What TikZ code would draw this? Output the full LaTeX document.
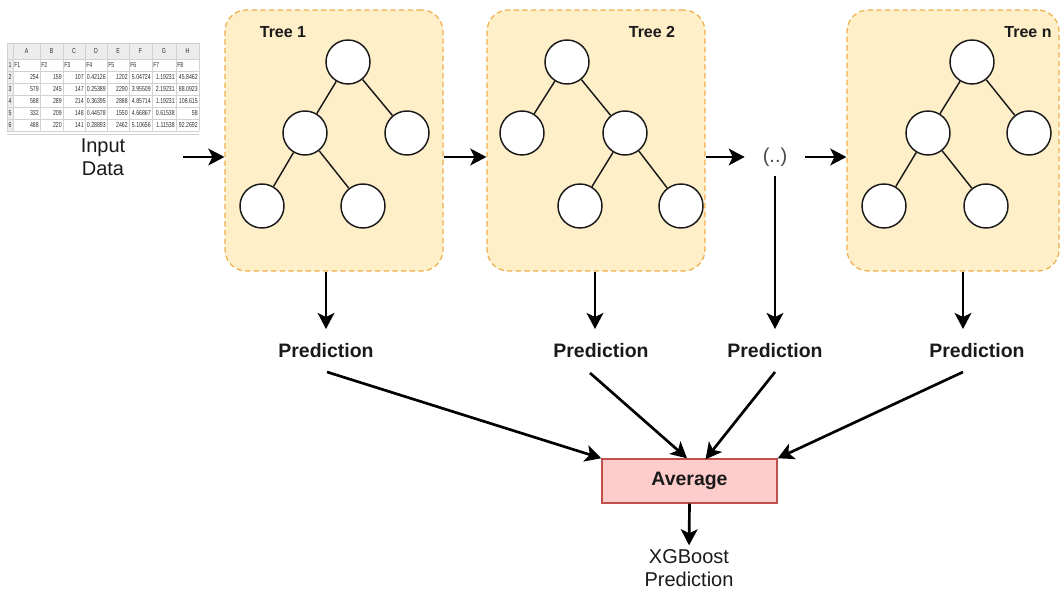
\documentclass[tikz,border=0pt]{standalone}
\usepackage{fontspec}
\usepackage{graphicx}
\setmainfont{Liberation Sans}
\usetikzlibrary{arrows.meta,calc}
\definecolor{treefill}{HTML}{FFEFC9}
\definecolor{treeedge}{HTML}{EEAE48}
\definecolor{avgfill}{HTML}{FFCCCC}
\definecolor{avgedge}{HTML}{C0504D}
\definecolor{ink}{HTML}{1A1A1A}
\definecolor{gridline}{HTML}{D2D2D2}
\definecolor{sheethead}{HTML}{ECECEC}
\definecolor{sheetink}{HTML}{2E2E2E}

\newcommand{\narrowcell}[1]{\scalebox{0.72}[1]{#1}}

\begin{document}
\begin{tikzpicture}[x=0.75pt,y=-0.75pt,
  treebox/.style={draw=treeedge, fill=treefill, dash pattern=on 4pt off 2.5pt,
    line width=0.9pt, rounded corners=16pt, minimum width=163.5pt,
    minimum height=195.75pt, inner sep=0pt},
  leaf/.style={circle, draw=ink, fill=white, line width=1.1pt,
    minimum size=33pt, inner sep=0pt},
  branch/.style={draw=ink, line width=1.1pt},
  flow/.style={-{Stealth[length=12pt,width=12.5pt,inset=3pt]}, line width=2pt, draw=black},
  treetitle/.style={font=\fontsize{12}{14}\selectfont\bfseries, text=ink, inner sep=0pt},
  predlabel/.style={font=\fontsize{14.6}{17}\selectfont\bfseries, text=ink, inner sep=0pt},
  plain/.style={font=\fontsize{15}{17}\selectfont, text=ink, inner sep=0pt, align=center},
  cell/.style={font=\fontsize{5.4}{5.4}\selectfont, text=sheetink, inner sep=0pt},
]
\useasboundingbox (0,0) rectangle (1060,591);
\clip (0,0) rectangle (1060,591);

% ---------- spreadsheet with the input features ----------
\fill[sheethead] (7,43) rectangle (199,59);
\fill[sheethead] (7,59) rectangle (13,131);
\foreach \y in {43,59,71,83,95,107,119,131}
  \draw[gridline, line width=0.4pt] (7,\y) -- (199,\y);
\foreach \x in {7,13,40,63,85,107,129,152,176,199}
  \draw[gridline, line width=0.4pt] (\x,43) -- (\x,131);
\draw[gridline, line width=0.4pt] (7,134) -- (199,134);
\foreach \h [count=\c] in {A,B,C,D,E,F,G,H} {
  \pgfmathsetmacro{\xl}{{13,40,63,85,107,129,152,176,199}[\c-1]}
  \pgfmathsetmacro{\xr}{{13,40,63,85,107,129,152,176,199}[\c]}
  \node[cell] at ({(\xl+\xr)/2},51) {\narrowcell{\h}};
  \node[cell, anchor=west] at (\xl+1,65) {\narrowcell{F\c}};
}
\foreach \r in {1,...,6}
  \node[cell] at (10,{53+\r*12}) {\narrowcell{\r}};
\foreach \row [count=\i from 2] in {
  {254,159,107,0.42126,1202,5.04724,1.19231,45.8462},
  {579,245,147,0.25389,2290,3.95509,2.19231,88.0923},
  {588,289,214,0.36395,2888,4.85714,1.19231,108.615},
  {332,209,148,0.44578,1550,4.66867,0.61538,58},
  {488,220,141,0.28893,2462,5.10656,1.11538,92.2692}} {
  \foreach \v [count=\c] in \row {
    \pgfmathsetmacro{\xr}{{13,40,63,85,107,129,152,176,199}[\c]}
    \node[cell, anchor=east] at (\xr-1,{53+\i*12}) {\narrowcell{\v}};
  }
}
\node[plain] (inp) at (103,157) {Input\\Data};

% ---------- tree containers ----------
\node[treebox] (box1) at (334,140.5) {};
\node[treebox] (box2) at (596,140.5) {};
\node[treebox, minimum width=159pt] (boxn) at (953,140.5) {};

\node[treetitle] at (283,32) {Tree 1};
\node[treetitle] at (652,32) {Tree 2};
\node[treetitle] at (1028,32) {Tree n};

% Tree 1
\node[leaf] (t1r) at (348,62) {};
\node[leaf] (t1a) at (305,133) {};
\node[leaf] (t1b) at (407,133) {};
\node[leaf] (t1c) at (262,206) {};
\node[leaf] (t1d) at (363,206) {};
\draw[branch] (t1r) -- (t1a);
\draw[branch] (t1r) -- (t1b);
\draw[branch] (t1a) -- (t1c);
\draw[branch] (t1a) -- (t1d);

% Tree 2
\node[leaf] (t2r) at (567,62) {};
\node[leaf] (t2a) at (522,133) {};
\node[leaf] (t2b) at (625,133) {};
\node[leaf] (t2c) at (580,206) {};
\node[leaf] (t2d) at (681,206) {};
\draw[branch] (t2r) -- (t2a);
\draw[branch] (t2r) -- (t2b);
\draw[branch] (t2b) -- (t2c);
\draw[branch] (t2b) -- (t2d);

% Tree n
\node[leaf] (tnr) at (972,62) {};
\node[leaf] (tna) at (928,133) {};
\node[leaf] (tnb) at (1029,133) {};
\node[leaf] (tnc) at (884,206) {};
\node[leaf] (tnd) at (986,206) {};
\draw[branch] (tnr) -- (tna);
\draw[branch] (tnr) -- (tnb);
\draw[branch] (tna) -- (tnc);
\draw[branch] (tna) -- (tnd);

% ---------- chain of trees ----------
\node[plain, text=ink!80, minimum width=45pt, minimum height=28.5pt] (dots) at (775,157) {(..)};
\coordinate (inarr) at (183,157);
\draw[flow] (inarr) -- (box1.west |- inarr);
\draw[flow] (box1.east |- dots) -- (box2.west |- dots);
\draw[flow] (box2.east |- dots) -- (dots.west);
\draw[flow] (dots.east) -- (boxn.west |- dots);

% ---------- predictions ----------
\node[predlabel] (p1) at (326,351) {Prediction};
\node[predlabel] (p2) at (601,351) {Prediction};
\node[predlabel] (p3) at (775,351) {Prediction};
\node[predlabel] (p4) at (977,351) {Prediction};

\coordinate (d1) at ($(p1)+(0,-22)$);
\coordinate (d2) at ($(p2)+(-6,-22)$);
\coordinate (d3) at ($(p3)+(0,-22)$);
\coordinate (d4) at ($(p4)+(-14,-22)$);
\draw[flow] (d1 |- box1.south) -- (d1);
\draw[flow] (d2 |- box2.south) -- (d2);
\draw[flow] (dots.south) -- (d3);
\draw[flow] (d4 |- boxn.south) -- (d4);

% ---------- averaging ----------
\node[draw=avgedge, fill=avgfill, line width=1.1pt, minimum width=131.25pt,
  minimum height=33pt, inner sep=0pt, font=\fontsize{14.6}{17}\selectfont\bfseries,
  text=ink] (avg) at (689.5,481) {Average};

\draw[flow] ($(p1)+(1,21)$) -- (avg.north west);
\draw[flow] ($(p2)+(-11,22)$) -- ($(avg.north)+(-2.5,0)$);
\draw[flow] ($(p3)+(0,21)$) -- ($(avg.north)+(16,1)$);
\draw[flow] ($(p4)+(-14,21)$) -- (avg.north east);

\node[plain] (xgb) at (689,568) {XGBoost\\Prediction};
\draw[flow, shorten >=3pt] (avg.south) -- (xgb.north);
\end{tikzpicture}
\end{document}
